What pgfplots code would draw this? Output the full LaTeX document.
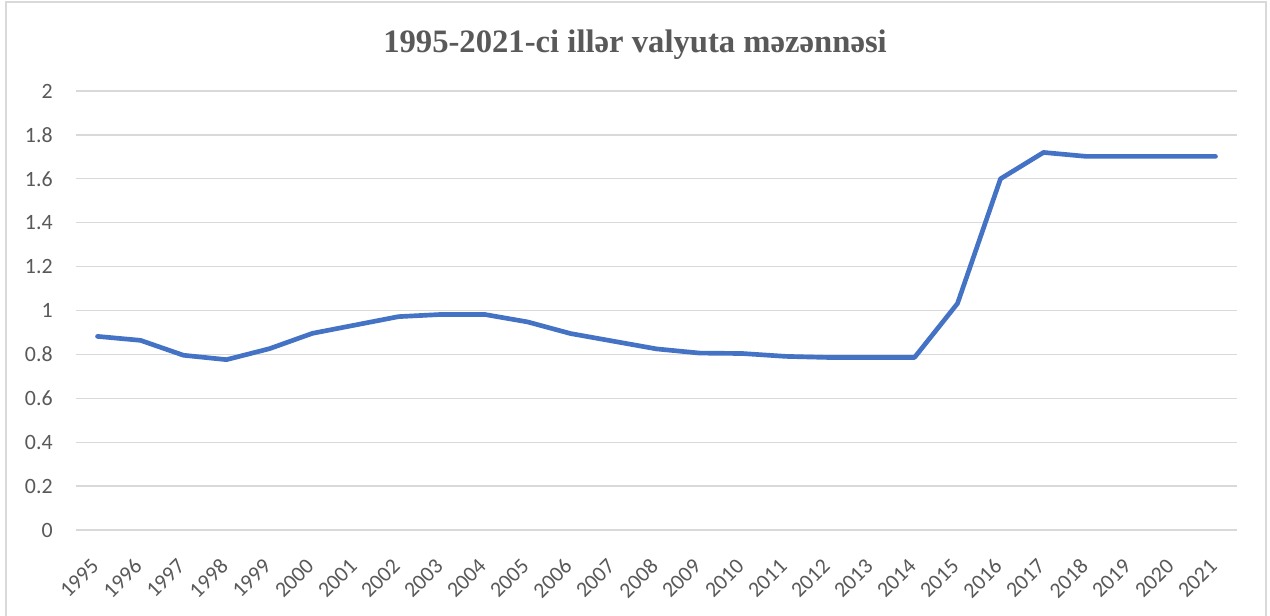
\documentclass[border=0pt]{standalone}
\usepackage{pgfplots}
\pgfplotsset{compat=1.18}
\usepackage{fontspec}
\setmainfont{Carlito}
\newfontfamily\titlefont{Liberation Serif}
\definecolor{lineblue}{HTML}{4472C4}
\definecolor{gridgrey}{HTML}{D9D9D9}
\definecolor{textgrey}{HTML}{595959}
\definecolor{bordergrey}{HTML}{D9D9D9}
\begin{document}
\begin{tikzpicture}[x=0.75pt,y=0.75pt]
\useasboundingbox (0,0) rectangle (1270,616);
\fill[white] (0,0) rectangle (1270,616);
\draw[bordergrey,line width=1.5pt] (6,0) -- (6,614) -- (1266,614) -- (1266,0);
\node[text=textgrey,font=\titlefont\bfseries\fontsize{24.5}{29}\selectfont] at (635,571) {1995-2021-ci illər valyuta məzənnəsi};
\begin{axis}[
  at={(76*0.75pt,86*0.75pt)}, anchor=south west,
  scale only axis,
  width=870.75pt, height=329.25pt,
  xmin=-0.5, xmax=26.5,
  ymin=0, ymax=2,
  ytick={0,0.2,...,2.01},
  yticklabels={0,0.2,0.4,0.6,0.8,1,1.2,1.4,1.6,1.8,2},
  xtick={0,...,26},
  xticklabels={1995,1996,1997,1998,1999,2000,2001,2002,2003,2004,2005,2006,2007,2008,2009,2010,2011,2012,2013,2014,2015,2016,2017,2018,2019,2020,2021},
  ymajorgrids,
  grid style={gridgrey,line width=1pt},
  axis line style={draw=none},
  major tick style={draw=none},
  tick label style={text=textgrey,font=\fontsize{16.4}{19}\selectfont},
  yticklabel style={anchor=east,xshift=-14pt},
  xticklabel style={rotate=45,anchor=east,xshift=-15pt,yshift=-16pt},
  /pgf/number format/assume math mode=true,
  clip=false,
]
\addplot[lineblue,line width=3.5pt,line cap=round,line join=round] coordinates {
(0,0.882) (1,0.864) (2,0.796) (3,0.776) (4,0.826) (5,0.896) (6,0.934)
(7,0.972) (8,0.982) (9,0.982) (10,0.948) (11,0.895) (12,0.860) (13,0.825)
(14,0.806) (15,0.804) (16,0.791) (17,0.786) (18,0.786) (19,0.786)
(20,1.032) (21,1.600) (22,1.720) (23,1.702) (24,1.702) (25,1.702) (26,1.702)
};
\end{axis}
\end{tikzpicture}
\end{document}
